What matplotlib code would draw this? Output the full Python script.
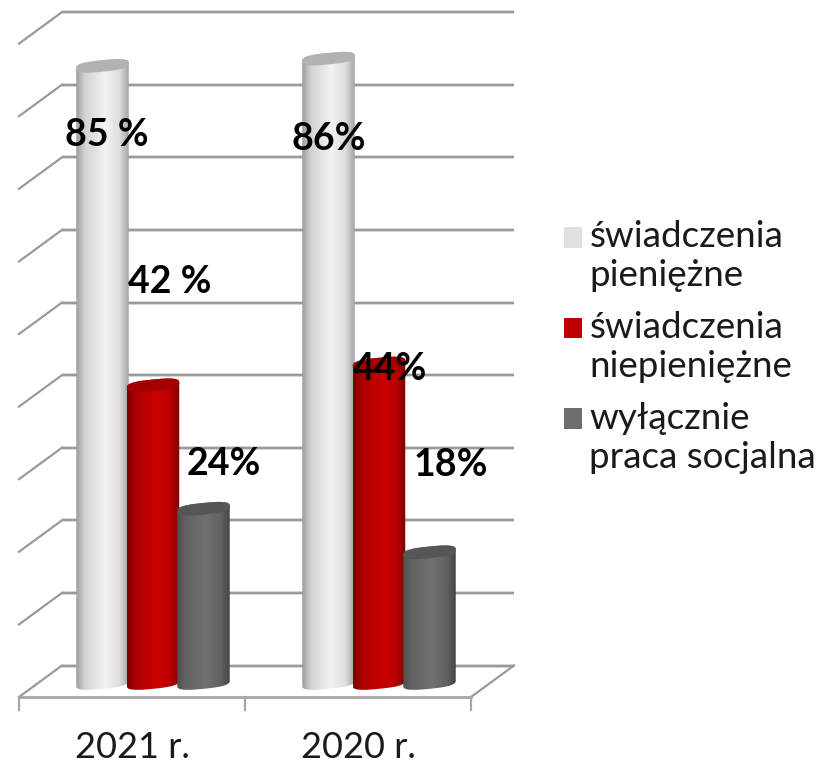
import numpy as np
import matplotlib
matplotlib.use('Agg')
import matplotlib.pyplot as plt
from matplotlib.colors import LinearSegmentedColormap
from matplotlib.patches import Patch, Polygon

plt.rcParams['font.family'] = ['Lato', 'DejaVu Sans']

years = ['2021 r.', '2020 r.']
series_names = ['świadczenia\npieniężne', 'świadczenia\nniepieniężne', 'wyłącznie\npraca socjalna']
bar_values = [[85, 41, 24], [86, 44, 18]]
bar_labels = [['85 %', '42 %', '24%'], ['86%', '44%', '18%']]
grid_values = np.arange(0, 100, 10)

# label offsets from the top of each bar, in pixels
label_dx = [[4, 17, 20], [0, 11, 21]]
label_dy = [[-69, 103, 45], [-80, -5, 87]]

# pixel scale of the plot
W, H = 825, 764
px_cat = 226.0      # one category
px_val = 7.26       # one percent
x0_px, y0_px = 132.0, 683.0
depth_x = 43 / px_cat
wall_y = 17.5 / px_val   # back wall zero above bar base
floor_y = -14 / px_val   # front floor edge below bar base
depth_y = wall_y - floor_y

bar_w = 52.5 / px_cat
bar_step = 50.5 / px_cat
bar_shift = 21 / px_cat

grad_pos = [0, 0.16, 0.55, 0.82, 1]
edge_cols = [
    ['#9c9c9c', '#d2d2d2', '#f3f3f3', '#dedede', '#a4a4a4'],
    ['#780000', '#ab0000', '#cc0000', '#b80000', '#800000'],
    ['#4e4e4e', '#636363', '#707070', '#626262', '#464646'],
]
cap_cols = ['#b2b2b2', '#a30000', '#565656']
legend_cols = ['#e0e0e0', '#c00000', '#6e6e6e']
line_col = '#9a9a9a'


def ellipse_pts(cx, cy, t):
    # tilted, squared ellipse, right side sits higher than the left
    a = bar_w / 2
    b = 5.8 / px_val
    k = 2.6 / px_val
    c = np.sign(np.cos(t)) * np.abs(np.cos(t)) ** 0.7
    s = np.sign(np.sin(t)) * np.abs(np.sin(t)) ** 0.7
    return cx + a * c, cy + b * s + k * c


fig = plt.figure(figsize=(W / 100, H / 100), dpi=100)
ax = fig.add_axes([0, 0, 1, 1])
ax.axis('off')

# walls and floor
left, right = -0.5, 1.5
for v in grid_values:
    yb = wall_y + v
    xs = [left, left + depth_x, right + depth_x]
    ys = [yb - depth_y, yb, yb]
    ax.plot(xs[1:], ys[1:], color='#d8d8d8', lw=2.8, zorder=1, solid_capstyle='butt')
    ax.plot(xs[1:], ys[1:], color=line_col, lw=1.5, zorder=1.1, solid_capstyle='butt')
    ax.plot(xs[:2], ys[:2], color=line_col, lw=1.6, zorder=1.1)
ax.plot([right, right + depth_x], [floor_y, wall_y], color=line_col, lw=1.6, zorder=1.1)
ax.plot([left, right], [floor_y, floor_y], color='#a6a6a6', lw=2.0, zorder=1.2)
for x in [left, 0.5, right]:
    ax.plot([x, x], [floor_y, floor_y - 13 / px_val], color='#a6a6a6', lw=1.6, zorder=1.2)

# cylinders
t_low = np.linspace(np.pi, 2 * np.pi, 60)
t_up = np.linspace(0, np.pi, 60)
t_all = np.linspace(0, 2 * np.pi, 120)
z = 2
for i, year in enumerate(years):
    for j, val in enumerate(bar_values[i]):
        cx = i + bar_shift + (j - 1) * bar_step
        xb, yb = ellipse_pts(cx, 0, t_low)
        xt, yt = ellipse_pts(cx, val, t_up)
        body = Polygon(np.column_stack([np.r_[xb, xt], np.r_[yb, yt]]), closed=True,
                       facecolor='none', edgecolor='none', zorder=z)
        ax.add_patch(body)
        cmap = LinearSegmentedColormap.from_list('cyl', list(zip(grad_pos, edge_cols[j])))
        grad = np.linspace(0, 1, 128).reshape(1, -1)
        im = ax.imshow(grad, cmap=cmap, aspect='auto', zorder=z, interpolation='bilinear',
                       extent=[cx - bar_w / 2, cx + bar_w / 2, -2, val + 2])
        im.set_clip_path(body)
        xc, yc = ellipse_pts(cx, val, t_all)
        ax.fill(xc, yc, color=cap_cols[j], lw=0, zorder=z + 0.1)
        z += 1

# imshow resets the limits, so set them after it
ax.set_xlim(-x0_px / px_cat, (W - x0_px) / px_cat)
ax.set_ylim((y0_px - H) / px_val, y0_px / px_val)

# value labels
for i in range(len(years)):
    for j, val in enumerate(bar_values[i]):
        cx = i + bar_shift + (j - 1) * bar_step
        ax.annotate(bar_labels[i][j], (cx, val), xytext=(label_dx[i][j], label_dy[i][j]),
                    textcoords='offset pixels', ha='center', va='center',
                    fontsize=27, fontweight='bold', color='black', zorder=50)

# category labels
for i, year in enumerate(years):
    ax.text(i, floor_y - 50 / px_val, year, ha='center', va='center',
            fontsize=26, color='#1a1a1a', zorder=50)

handles = [Patch(facecolor=c, edgecolor='none') for c in legend_cols]
leg = ax.legend(handles, series_names, loc='center left', bbox_to_anchor=(564 / W, 1 - 347 / H),
                frameon=False, fontsize=26.5, labelspacing=0.51, handlelength=0.49,
                handleheight=0.49, handletextpad=0.2, borderpad=0, borderaxespad=0,
                labelcolor='#1a1a1a')
for t in leg.get_texts():
    t.set_linespacing(1.22)
# squares sit next to the first line of each entry
for p in leg.get_patches():
    p.set_y(p.get_y() + 14)

fig.savefig('out.png', dpi=100)
